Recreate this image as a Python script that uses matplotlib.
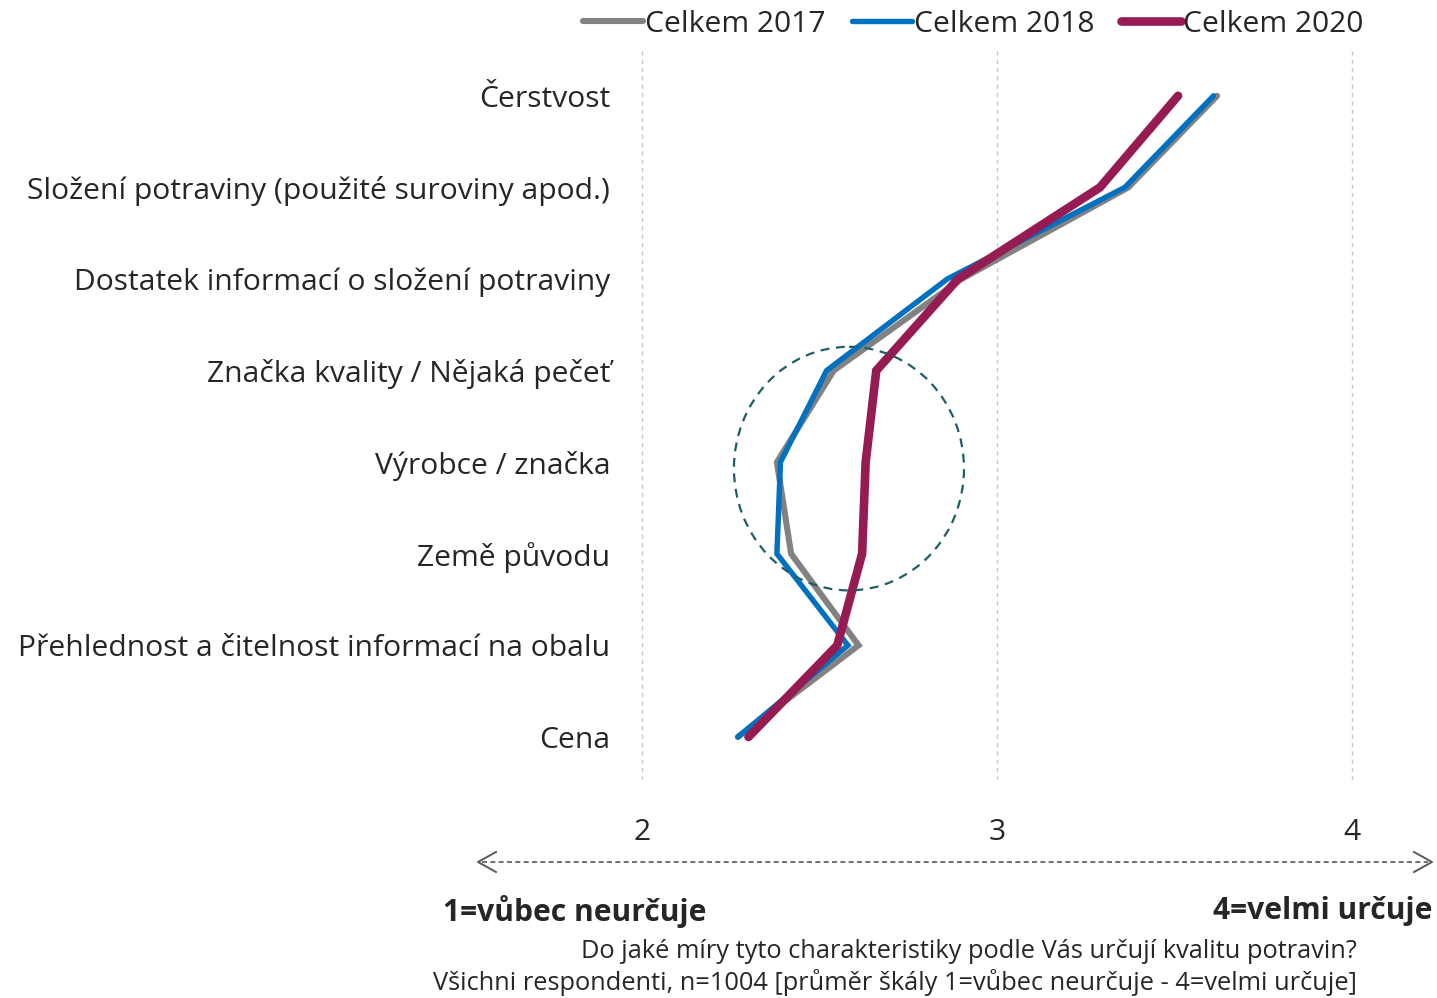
import matplotlib
matplotlib.use("Agg")
import matplotlib.pyplot as plt
from matplotlib.patches import Ellipse
from matplotlib.lines import Line2D

plt.rcParams['font.family'] = ['Open Sans', 'Noto Sans', 'DejaVu Sans']

categories = ["Čerstvost",
              "Složení potraviny (použité suroviny apod.)",
              "Dostatek informací o složení potraviny",
              "Značka kvality / Nějaká pečeť",
              "Výrobce / značka",
              "Země původu",
              "Přehlednost a čitelnost informací na obalu",
              "Cena"]
celkem_2017 = [3.62, 3.37, 2.90, 2.54, 2.38, 2.42, 2.61, 2.27]
celkem_2018 = [3.61, 3.36, 2.86, 2.52, 2.39, 2.38, 2.58, 2.27]
celkem_2020 = [3.51, 3.29, 2.89, 2.66, 2.63, 2.62, 2.55, 2.30]
series_names = ["Celkem 2017", "Celkem 2018", "Celkem 2020"]
xticks = [2, 3, 4]

FS = 21.6
W, H = 1437, 998
fig = plt.figure(figsize=(W/100, H/100), dpi=100)
x0, x1 = 624.25, 1423
y_top, y_bot = 50, 780
ax = fig.add_axes([x0/W, 1 - y_bot/H, (x1-x0)/W, (y_bot-y_top)/H])

ypos = list(range(len(categories)))
ax.plot(celkem_2017, ypos, color="#828282", lw=4.4, solid_capstyle='round', solid_joinstyle='miter', zorder=3)
ax.plot(celkem_2018, ypos, color="#0070C0", lw=3.9, solid_capstyle='round', solid_joinstyle='miter', zorder=4)
ax.plot(celkem_2020, ypos, color="#961B52", lw=6.2, solid_capstyle='round', solid_joinstyle='miter', zorder=5)

ax.set_xlim(1.95, 4.2)
ax.set_ylim(7.47, -0.5)
ax.set_yticks(ypos)
ax.set_yticklabels(categories, fontsize=FS, color="#262626")
ax.set_xticks(xticks)
ax.set_xticklabels([str(t) for t in xticks], fontsize=FS, color="#262626")
ax.tick_params(axis='y', length=0, pad=10)
ax.tick_params(axis='x', length=0, pad=27)
for s in ax.spines.values():
    s.set_visible(False)
for t in xticks:
    ax.axvline(t, color="#c8c8c8", lw=1.0, ls=(0, (3, 3)), zorder=1)

ell = Ellipse((2.583, 4.07), width=0.648, height=2.66, fill=False,
              edgecolor="#1D5E68", lw=1.6, ls=(0, (4, 3)), zorder=6)
ax.add_patch(ell)

handles = [Line2D([], [], color="#828282", lw=4.4, solid_capstyle='round'),
           Line2D([], [], color="#0070C0", lw=3.9, solid_capstyle='round'),
           Line2D([], [], color="#961B52", lw=6.2, solid_capstyle='round')]
fig.legend(handles, series_names, loc='center', bbox_to_anchor=(973/W, 1 - 24/H),
           ncol=3, frameon=False, fontsize=FS, handlelength=2.0,
           handletextpad=0.05, columnspacing=0.9, labelcolor="#262626")

ay = 1 - 862/H
fig.add_artist(Line2D([482/W, 1428/W], [ay, ay], color="#595959", lw=1.2,
                      ls=(0, (3, 2)), transform=fig.transFigure))
for xa, d in [(478, 1), (1432, -1)]:
    fig.add_artist(Line2D([(xa + d*18)/W, xa/W, (xa + d*18)/W],
                          [1 - 852/H, ay, 1 - 872/H], color="#595959", lw=1.4,
                          transform=fig.transFigure))

fig.text(443/W, 1 - 911/H, "1=vůbec neurčuje", fontsize=FS, fontweight='bold',
         color="#262626", ha='left', va='center')
fig.text(1432/W, 1 - 911/H, "4=velmi určuje", fontsize=FS, fontweight='bold',
         color="#262626", ha='right', va='center')
fig.text(1357/W, 1 - 952/H, "Do jaké míry tyto charakteristiky podle Vás určují kvalitu potravin?",
         fontsize=18.25, color="#262626", ha='right', va='center')
fig.text(1357/W, 1 - 983/H, "Všichni respondenti, n=1004 [průměr škály 1=vůbec neurčuje - 4=velmi určuje]",
         fontsize=18.25, color="#262626", ha='right', va='center')

fig.savefig("out.png", dpi=100)
